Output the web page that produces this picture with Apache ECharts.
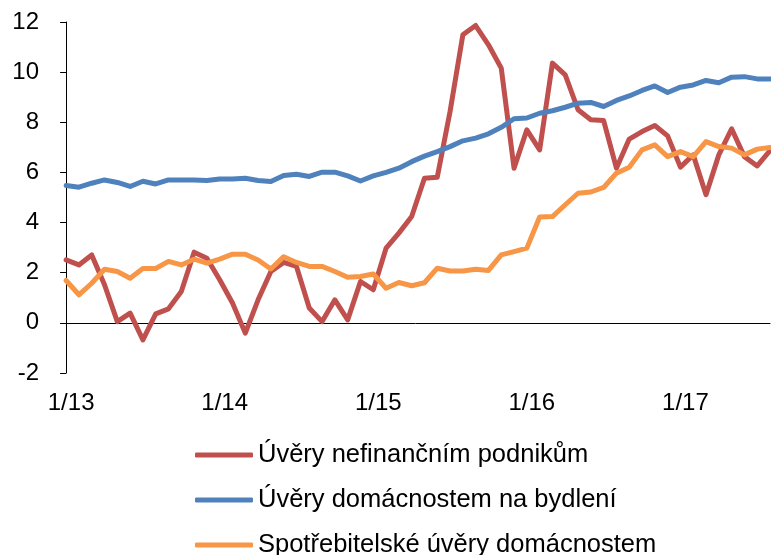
<!DOCTYPE html>
<html>
<head>
<meta charset="utf-8">
<script src="https://cdn.jsdelivr.net/npm/echarts@6/dist/echarts.min.js"></script>
<style>html,body{margin:0;padding:0;background:#fff}#c{width:771px;height:555px}</style>
</head>
<body>
<div id="c"></div>
<script>
// Monthly data 1/13 .. 8/17 (index 0 = 1/13)
const tickIndices = [0, 12, 24, 36, 48];
const tickLabels = ['1/13', '1/14', '1/15', '1/16', '1/17'];
const seriesNames = ['Úvěry nefinančním podnikům', 'Úvěry domácnostem na bydlení', 'Spotřebitelské úvěry domácnostem'];
const corporate = [2.51, 2.31, 2.71, 1.52, 0.05, 0.39, -0.68, 0.36, 0.56, 1.25, 2.82, 2.58, 1.72, 0.79, -0.41,
  0.92, 2.05, 2.41, 2.25, 0.59, 0.05, 0.92, 0.12, 1.65, 1.32, 2.98, 3.58, 4.24, 5.77,
  5.81, 8.43, 11.49, 11.86, 11.09, 10.16, 6.17, 7.70, 6.90, 10.36, 9.89, 8.50, 8.10,
  8.07, 6.17, 7.33, 7.63, 7.87, 7.46, 6.21, 6.70, 5.11, 6.70, 7.74, 6.63, 6.26, 6.87];
const housing = [5.48, 5.41, 5.57, 5.70, 5.60, 5.44, 5.65, 5.54, 5.70, 5.70, 5.70, 5.68, 5.74, 5.74, 5.77,
  5.68, 5.64, 5.88, 5.93, 5.84, 6.01, 6.01, 5.86, 5.66, 5.86, 6.00, 6.17, 6.43, 6.65,
  6.83, 7.03, 7.26, 7.37, 7.54, 7.80, 8.14, 8.17, 8.36, 8.46, 8.60, 8.76, 8.79,
  8.63, 8.87, 9.05, 9.27, 9.45, 9.19, 9.40, 9.49, 9.67, 9.58, 9.80, 9.82, 9.73, 9.73];
const consumer = [1.69, 1.12, 1.58, 2.14, 2.05, 1.78, 2.17, 2.17, 2.45, 2.31, 2.54, 2.38, 2.54, 2.74, 2.74,
  2.51, 2.15, 2.64, 2.41, 2.25, 2.25, 2.05, 1.82, 1.85, 1.95, 1.38, 1.61, 1.48, 1.60,
  2.18, 2.07, 2.07, 2.14, 2.09, 2.71, 2.84, 2.98, 4.22, 4.24, 4.71, 5.17, 5.22,
  5.40, 5.97, 6.21, 6.90, 7.10, 6.63, 6.83, 6.63, 7.23, 7.03, 6.97, 6.70, 6.93, 6.99];
const colors = ['#C0504D', '#4F81BD', '#F79646'];

const FONT = '"Liberation Sans", Arial, sans-serif';
const toPairs = arr => arr.map((v, i) => [i, v]);
const xMin = -0.4, xMax = 55;

const chart = echarts.init(document.getElementById('c'), null, {renderer: 'canvas'});
chart.setOption({
  animation: false,
  backgroundColor: '#fff',
  grid: {left: 61, right: 1, top: 22, bottom: 182, containLabel: false},
  xAxis: [{
    type: 'value', min: xMin, max: xMax, position: 'bottom',
    axisLine: {show: false, onZero: false},
    axisTick: {show: false},
    splitLine: {show: false},
    axisLabel: {
      customValues: tickIndices,
      formatter: v => tickLabels[tickIndices.indexOf(v)] || '',
      fontFamily: FONT, fontSize: 24, color: '#000', margin: 18,
      padding: [0, 0, 0, 10]
    }
  }, {
    type: 'value', min: xMin, max: xMax, position: 'top',
    axisLine: {show: true, onZero: true, lineStyle: {color: '#000', width: 1}},
    axisTick: {show: false}, axisLabel: {show: false}, splitLine: {show: false}
  }],
  yAxis: {
    type: 'value', min: -2, max: 12, interval: 2,
    axisLine: {show: true, lineStyle: {color: '#000', width: 1}},
    axisTick: {show: true, inside: false, length: 6, lineStyle: {color: '#000'}},
    splitLine: {show: false},
    axisLabel: {fontFamily: FONT, fontSize: 24, color: '#000', margin: 22}
  },
  legend: {
    orient: 'vertical', left: 195, top: 442, height: 160, padding: 0,
    itemWidth: 58, itemHeight: 5, itemGap: 19,
    icon: 'roundRect',
    textStyle: {fontFamily: FONT, fontSize: 25.5, lineHeight: 25, color: '#000'},
    data: seriesNames
  },
  series: [corporate, housing, consumer].map((arr, k) => ({
    name: seriesNames[k], type: 'line', xAxisIndex: 0,
    data: toPairs(arr), showSymbol: false, symbol: 'none',
    color: colors[k],
    lineStyle: {color: colors[k], width: 5, join: 'round', cap: 'round'}
  }))
});
</script>
</body>
</html>
